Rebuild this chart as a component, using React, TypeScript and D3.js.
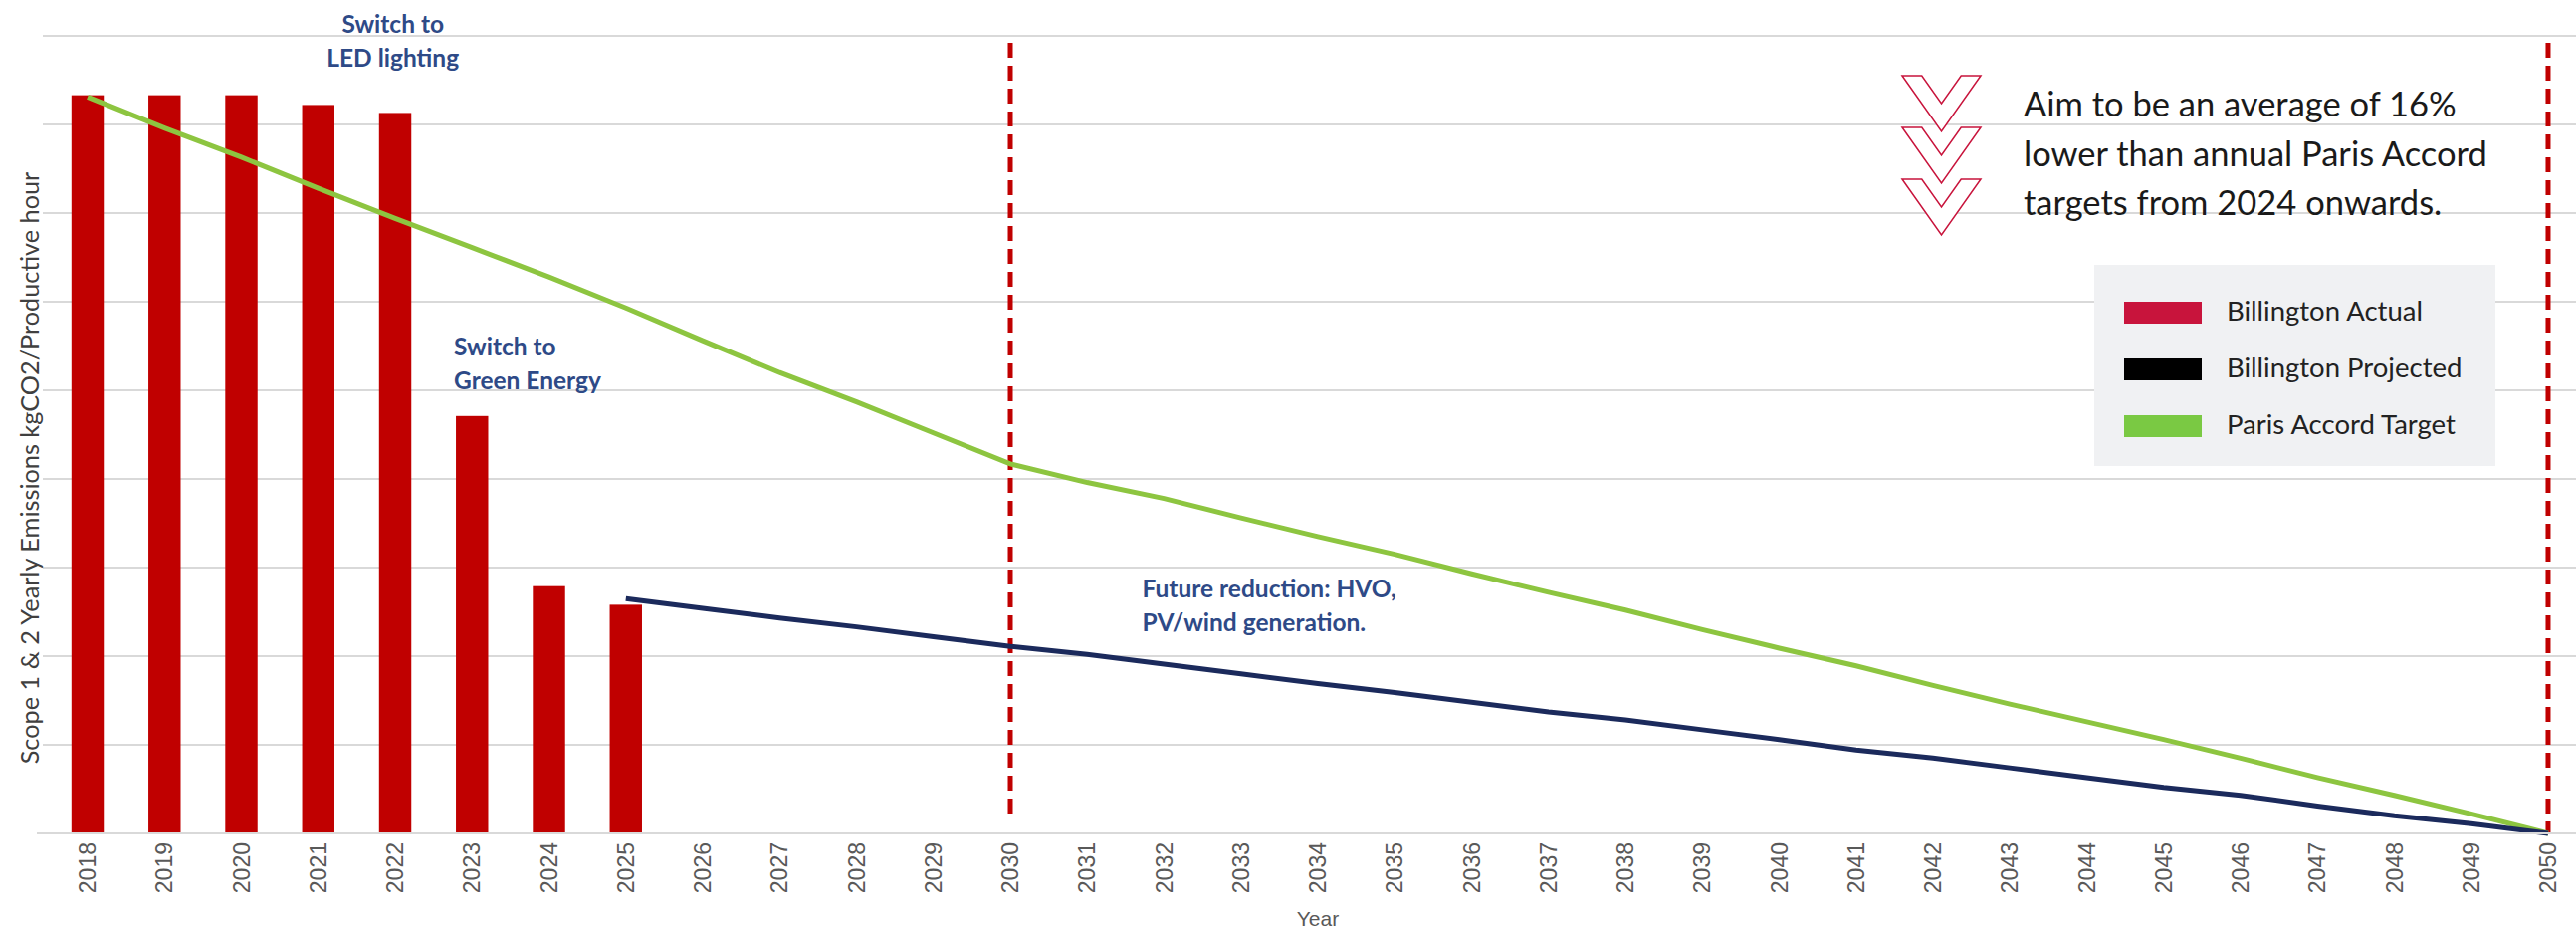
import React, { useEffect, useRef } from 'react';
import * as d3 from 'd3';

const WIDTH = 2588;
const HEIGHT = 936;

// categories
const years = [
  '2018', '2019', '2020', '2021', '2022', '2023', '2024', '2025', '2026', '2027', '2028',
  '2029', '2030', '2031', '2032', '2033', '2034', '2035', '2036', '2037', '2038', '2039',
  '2040', '2041', '2042', '2043', '2044', '2045', '2046', '2047', '2048', '2049', '2050',
];

// Billington Actual (bars)
const actualYears = ['2018', '2019', '2020', '2021', '2022', '2023', '2024', '2025'];
const actualValues = [8.33, 8.33, 8.33, 8.22, 8.13, 4.71, 2.79, 2.58];

// Billington Projected (navy line)
const projectedYears = [
  '2025', '2026', '2027', '2028', '2029', '2030', '2031', '2032', '2033', '2034', '2035',
  '2036', '2037', '2038', '2039', '2040', '2041', '2042', '2043', '2044', '2045', '2046',
  '2047', '2048', '2049', '2050',
];
const projectedValues = [
  2.65, 2.54, 2.43, 2.33, 2.22, 2.11, 2.02, 1.91, 1.8, 1.69, 1.59, 1.48, 1.37, 1.28, 1.17,
  1.06, 0.94, 0.85, 0.74, 0.63, 0.52, 0.43, 0.31, 0.2, 0.11, 0,
];

// Paris Accord Target (green line), one per year 2018-2050
const parisValues = [
  8.31, 7.96, 7.63, 7.28, 6.94, 6.61, 6.28, 5.93, 5.56, 5.2, 4.87, 4.52, 4.17, 3.96, 3.78,
  3.56, 3.35, 3.15, 2.93, 2.72, 2.52, 2.3, 2.09, 1.89, 1.67, 1.46, 1.26, 1.06, 0.85, 0.63,
  0.43, 0.22, 0,
];

const gridTicks = [0, 1, 2, 3, 4, 5, 6, 7, 8, 9];
const milestoneYears = ['2030', '2050'];

const legendLabels = ['Billington Actual', 'Billington Projected', 'Paris Accord Target'];
const legendColors = ['#C8143C', '#000000', '#7AC943'];

const noteLines = [
  'Aim to be an average of 16%',
  'lower than annual Paris Accord',
  'targets from 2024 onwards.',
];

const NAVY_TEXT = '#2E4A87';
const CALIBRI = 'Lato, "Open Sans", sans-serif';

const App: React.FC = () => {
  const svgRef = useRef<SVGSVGElement>(null);

  useEffect(() => {
    document.body.style.margin = '0';
    if (!svgRef.current) return;
    const svg = d3.select(svgRef.current);
    svg.selectAll('*').remove();

    const x = d3
      .scaleBand<string>()
      .domain(years)
      .range([49.4, 2598.6])
      .paddingInner(0.58)
      .paddingOuter(0.29);
    const step = x.step();
    const cx = (yr: string) => (x(yr) ?? 0) + x.bandwidth() / 2;
    const y = d3.scaleLinear().domain([0, 9]).range([837, 36]);

    // gridlines
    svg
      .append('g')
      .selectAll('line')
      .data(gridTicks)
      .join('line')
      .attr('x1', 43)
      .attr('x2', WIDTH)
      .attr('y1', (d) => y(d))
      .attr('y2', (d) => y(d))
      .attr('stroke', '#D9D9D9')
      .attr('stroke-width', 2);

    // annotations in the chart
    const bold = (lines: string[], tx: number, ty: number, anchor: string) => {
      lines.forEach((s, i) => {
        svg
          .append('text')
          .attr('x', tx)
          .attr('y', ty + i * 34)
          .attr('text-anchor', anchor)
          .attr('fill', NAVY_TEXT)
          .attr('font-family', CALIBRI)
          .attr('font-weight', 700)
          .attr('font-size', 24.5)
          .text(s);
      });
    };
    bold(['Switch to', 'LED lighting'], cx('2022') - step * 0.03, 33, 'middle');
    bold(['Switch to', 'Green Energy'], x('2023')! - 2, 357, 'start');
    bold(['Future reduction: HVO,', 'PV/wind generation.'], cx('2032') - 22, 600, 'start');

    // bars
    svg
      .append('g')
      .selectAll('rect')
      .data(actualValues)
      .join('rect')
      .attr('x', (_, i) => x(actualYears[i]) ?? 0)
      .attr('y', (d) => y(d))
      .attr('width', x.bandwidth())
      .attr('height', (d) => y(0) - y(d))
      .attr('fill', '#C00000');

    // milestone dashed lines
    svg
      .append('g')
      .selectAll('line')
      .data(milestoneYears)
      .join('line')
      .attr('x1', (d) => cx(d))
      .attr('x2', (d) => cx(d))
      .attr('y1', y(8.92))
      .attr('y2', (d, i) => (i === 0 ? y(0.19) : y(0)))
      .attr('stroke', '#C00000')
      .attr('stroke-width', 5)
      .attr('stroke-dasharray', '15,8');

    const line = d3
      .line<number>()
      .x((_, i) => cx(years[i]))
      .y((d) => y(d));

    // Paris target
    svg
      .append('path')
      .attr('d', line(parisValues) ?? '')
      .attr('fill', 'none')
      .attr('stroke', '#8DC540')
      .attr('stroke-width', 5);

    // projected
    const projLine = d3
      .line<number>()
      .x((_, i) => cx(projectedYears[i]))
      .y((d) => y(d));
    svg
      .append('path')
      .attr('d', projLine(projectedValues) ?? '')
      .attr('fill', 'none')
      .attr('stroke', '#1B2A5C')
      .attr('stroke-width', 5);

    // x axis baseline + labels
    svg
      .append('line')
      .attr('x1', 37)
      .attr('x2', WIDTH)
      .attr('y1', y(0))
      .attr('y2', y(0))
      .attr('stroke', '#D9D9D9')
      .attr('stroke-width', 2);

    svg
      .append('g')
      .selectAll('text')
      .data(years)
      .join('text')
      .attr('transform', (d) => `translate(${cx(d)}, ${y(0) + 9}) rotate(-90)`)
      .attr('text-anchor', 'end')
      .attr('dy', '0.35em')
      .attr('fill', '#595959')
      .attr('font-family', '"Liberation Sans", Arial, sans-serif')
      .attr('font-size', 23)
      .text((d) => d);

    svg
      .append('text')
      .attr('x', 1324)
      .attr('y', 930)
      .attr('text-anchor', 'middle')
      .attr('fill', '#595959')
      .attr('font-family', '"Liberation Sans", Arial, sans-serif')
      .attr('font-size', 21)
      .text('Year');

    svg
      .append('text')
      .attr('transform', `translate(30, 470) rotate(-90)`)
      .attr('text-anchor', 'middle')
      .attr('dy', '0.35em')
      .attr('fill', '#404040')
      .attr('font-family', CALIBRI)
      .attr('font-size', 25.3)
      .text('Scope 1 & 2 Yearly Emissions kgCO2/Productive hour');

    // chevrons
    const chev = svg
      .append('g')
      .attr('fill', '#FFFFFF')
      .attr('stroke', '#C8143C')
      .attr('stroke-width', 1.5);
    [0, 1, 2].forEach((i) => {
      const x0 = 1911;
      const w = 79;
      const h = 56;
      const t = 76 + i * 52;
      chev
        .append('path')
        .attr(
          'd',
          `M${x0},${t} L${x0 + w / 2},${t + h} L${x0 + w},${t} L${x0 + w * 0.75},${t} L${x0 + w / 2},${t + h * 0.5} L${x0 + w * 0.25},${t} Z`,
        );
    });

    noteLines.forEach((s, i) => {
      svg
        .append('text')
        .attr('x', 2033)
        .attr('y', 117 + i * 49.5)
        .attr('fill', '#1A1A1A')
        .attr('font-family', CALIBRI)
        .attr('font-size', 34.5)
        .text(s);
    });

    // legend
    const lg = svg.append('g');
    lg.append('rect')
      .attr('x', 2104)
      .attr('y', 266)
      .attr('width', 403)
      .attr('height', 202)
      .attr('fill', '#F0F1F3');
    legendLabels.forEach((s, i) => {
      lg.append('rect')
        .attr('x', 2134)
        .attr('y', 303 + i * 57)
        .attr('width', 78)
        .attr('height', 22)
        .attr('fill', legendColors[i]);
      lg.append('text')
        .attr('x', 2237)
        .attr('y', 322 + i * 57)
        .attr('fill', '#222222')
        .attr('font-family', CALIBRI)
        .attr('font-size', 27.5)
        .text(s);
    });
  }, []);

  return <svg ref={svgRef} width={WIDTH} height={HEIGHT} style={{ display: 'block', background: '#FFFFFF' }} />;
};

export default App;
